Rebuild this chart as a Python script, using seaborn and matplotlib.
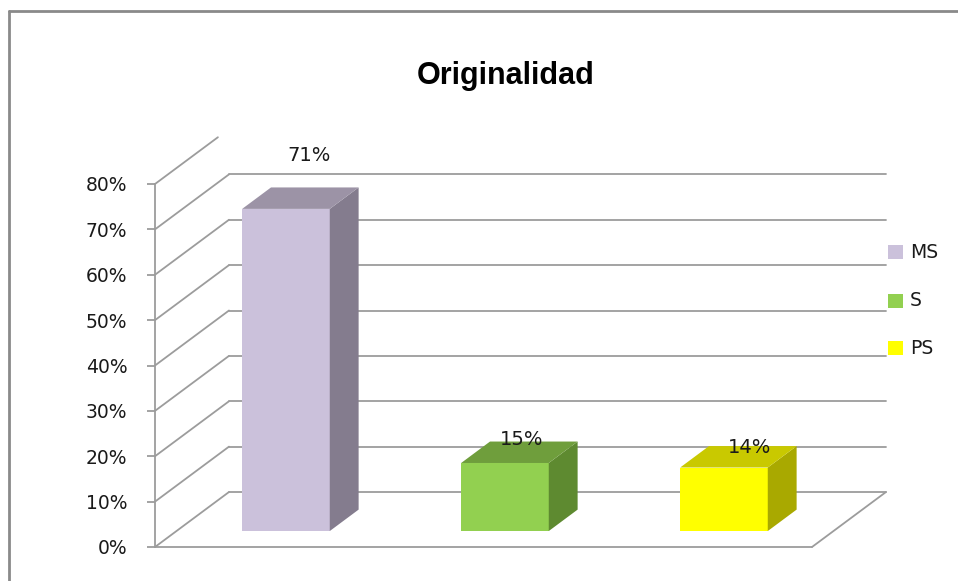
import matplotlib
matplotlib.use("Agg")
import matplotlib.pyplot as plt
import matplotlib.transforms as mtransforms
from matplotlib.patches import Polygon, Rectangle
from matplotlib.lines import Line2D
import seaborn as sns
import pandas as pd

# ---- data ----
categories = ["MS", "S", "PS"]
values = [71, 15, 14]
value_labels = ["71%", "15%", "14%"]
yticks = [0, 10, 20, 30, 40, 50, 60, 70, 80]
ytick_labels = ["0%", "10%", "20%", "30%", "40%", "50%", "60%", "70%", "80%"]
title = "Originalidad"

# ---- style ----
front_colors = ["#CBC1DB", "#92D050", "#FFFF00"]
side_colors = ["#847C8E", "#5E8A30", "#A9A900"]
top_colors = ["#9C93A6", "#6F9E3C", "#C9C900"]
grid_color = "#9C9C9C"
text_color = "#1A1A1A"
DEPTH = (74.0, 55.0)      # full floor depth in pixels (right, up)
BAR_D0, BAR_D1 = 0.29, 0.68
label_offsets = [(-5.5, 32), (-12.5, 2), (-3.5, -1)]  # px from back-top centre

W, H, DPI = 958, 581, 100
sns.set_theme(style="white")
plt.rcParams["font.family"] = ["DejaVu Sans"]
fig = plt.figure(figsize=(W / DPI, H / DPI), dpi=DPI)
ax = fig.add_axes([155 / W, (H - 547) / H, 657 / W, 363 / H])
ax.set_xlim(-0.5, 2.5)
ax.set_ylim(0, 80)

df = pd.DataFrame({"cat": categories, "val": values})
sns.barplot(data=df, x="cat", y="val", hue="cat", palette=front_colors,
            width=0.4, ax=ax, legend=False, saturation=1, linewidth=0, zorder=3)
ax.set_xlim(-0.5, 2.5)
ax.set_ylim(0, 80)

ident = mtransforms.IdentityTransform()


def P(x, y, d):
    px, py = ax.transData.transform((x, y))
    return (px + DEPTH[0] * d, py + DEPTH[1] * d)


def seg(p, q, **kw):
    ax.add_line(Line2D([p[0], q[0]], [p[1], q[1]], transform=ident,
                       color=grid_color, lw=1.3, clip_on=False, **kw))


# walls / gridlines
x0, x1 = ax.get_xlim()
for v in yticks:
    if v < yticks[-1]:
        seg(P(x0, v, 0), P(x0, v, 1), zorder=0.5)
        seg(P(x0, v, 1), P(x1, v, 1), zorder=0.5)
    else:
        seg(P(x0, v, 0), P(x0, v, 0.85), zorder=0.5)
seg(P(x1, 0, 0), P(x1, 0, 1), zorder=0.5)
seg(P(x0, 0, 0), P(x1, 0, 0), zorder=0.6)

# bars: shift front faces into depth, add side and top faces
shift = mtransforms.Affine2D().translate(DEPTH[0] * BAR_D0, DEPTH[1] * BAR_D0)
bars = [p for p in ax.patches if isinstance(p, Rectangle)]
bars = sorted(bars, key=lambda r: r.get_x())
for i, r in enumerate(bars):
    r.set_transform(ax.transData + shift)
    r.set_zorder(3)
    bx0, bw, bh = r.get_x(), r.get_width(), r.get_height()
    bx1 = bx0 + bw
    side = [P(bx1, 0, BAR_D0), P(bx1, 0, BAR_D1), P(bx1, bh, BAR_D1), P(bx1, bh, BAR_D0)]
    top = [P(bx0, bh, BAR_D0), P(bx1, bh, BAR_D0), P(bx1, bh, BAR_D1), P(bx0, bh, BAR_D1)]
    ax.add_patch(Polygon(side, closed=True, transform=ident, facecolor=side_colors[i],
                         edgecolor="none", zorder=3, clip_on=False))
    ax.add_patch(Polygon(top, closed=True, transform=ident, facecolor=top_colors[i],
                         edgecolor="none", zorder=3, clip_on=False))
    cx, cy = P(bx0 + bw / 2, bh, BAR_D1)
    ox, oy = label_offsets[i]
    ax.text(cx + ox, cy + oy, value_labels[i], transform=ident, ha="center",
            va="center", fontsize=14, color=text_color, zorder=5)

# axes styling
for s in ["top", "right", "bottom"]:
    ax.spines[s].set_visible(False)
ax.spines["left"].set_color(grid_color)
ax.spines["left"].set_linewidth(1.3)
ax.set_yticks(yticks)
ax.set_yticklabels(ytick_labels)
ax.tick_params(axis="y", left=True, length=6, width=1.3, color=grid_color,
               pad=14, labelsize=13.5, labelcolor=text_color)
ax.set_xticks([])
ax.set_xlabel("")
ax.set_ylabel("")
ax.patch.set_alpha(0)

# title
fig.text(506 / W, 1 - 84 / H, title, ha="center", va="baseline",
         fontsize=22, fontweight="bold", family=["Liberation Sans", "DejaVu Sans"],
         color="black")

# legend (manual)
leg_y = [252, 301, 348]
for i, cat in enumerate(categories):
    fig.patches.append(Rectangle(((888) / W, 1 - (leg_y[i] + 7) / H), 15 / W, 14 / H,
                                 transform=fig.transFigure, facecolor=front_colors[i],
                                 edgecolor="none"))
    fig.text(910 / W, 1 - leg_y[i] / H, cat, ha="left", va="center",
             fontsize=13.5, color=text_color)

# outer border (top and left)
fig.add_artist(Line2D([9 / W, 1.0], [1 - 11 / H, 1 - 11 / H], transform=fig.transFigure,
                      color="#8A8A8A", lw=2))
fig.add_artist(Line2D([9 / W, 9 / W], [1 - 11 / H, 0], transform=fig.transFigure,
                      color="#8A8A8A", lw=2))

fig.savefig("out.png", dpi=DPI)
